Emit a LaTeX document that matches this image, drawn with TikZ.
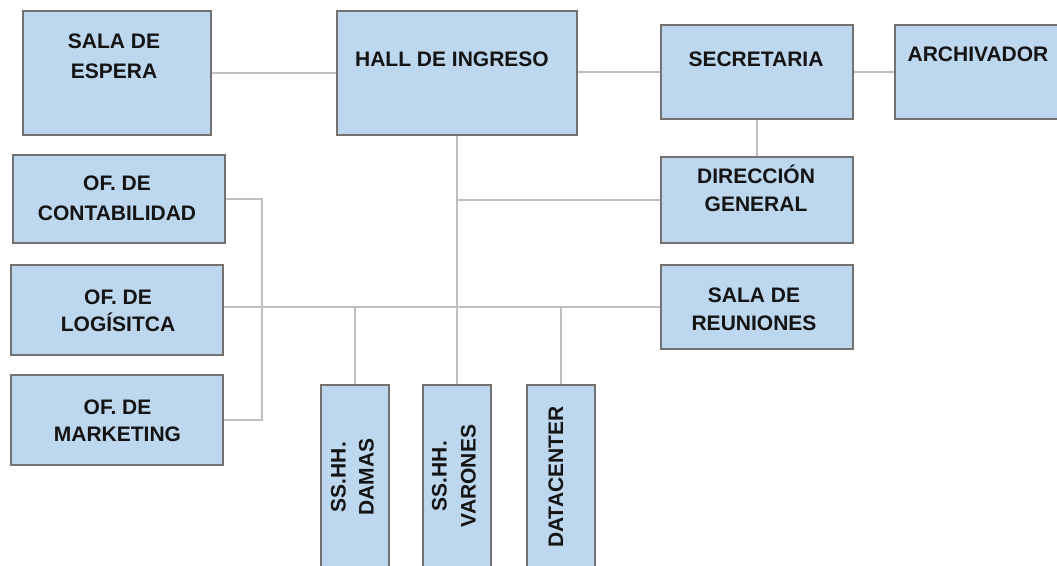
\documentclass[tikz,border=0pt]{standalone}
\usepackage{fontspec}
\setmainfont{Liberation Sans}
\usetikzlibrary{backgrounds}
\definecolor{roomfill}{HTML}{BDD7EE}
\definecolor{roomline}{HTML}{767171}
\definecolor{wirecol}{HTML}{BFBFBF}
\definecolor{ink}{HTML}{141414}
\begin{document}
\begin{tikzpicture}[x=1pt,y=-1pt,
  room/.style={draw=roomline, fill=roomfill, line width=2pt, inner sep=0pt, anchor=north west},
  lbl/.style={font=\fontsize{21}{#1}\selectfont\bfseries, text=ink, align=center, inner sep=0pt, anchor=north},
  lbl/.default=28,
  wire/.style={draw=wirecol, line width=1.8pt}]
\clip (0,0) rectangle (1057,565);
% rooms
\node[room, minimum width=188, minimum height=124] (espera) at (22,10) {};
\node[room, minimum width=240, minimum height=124] (hall) at (336,10) {};
\node[room, minimum width=192, minimum height=94] (secretaria) at (660,24) {};
\node[room, minimum width=171, minimum height=94] (archivador) at (894,24) {};
\node[room, minimum width=192, minimum height=86] (direccion) at (660,156) {};
\node[room, minimum width=212, minimum height=88] (conta) at (12,154) {};
\node[room, minimum width=212, minimum height=90] (logistica) at (10,264) {};
\node[room, minimum width=212, minimum height=90] (marketing) at (10,374) {};
\node[room, minimum width=192, minimum height=84] (reuniones) at (660,264) {};
\node[room, minimum width=68, minimum height=196] (damas) at (320,384) {};
\node[room, minimum width=68, minimum height=196] (varones) at (422,384) {};
\node[room, minimum width=68, minimum height=196] (datacenter) at (526,384) {};
% labels
\node[lbl=30] (t-espera) at (114,48.5) {\smash{SALA DE}\\\smash{ESPERA}};
\node[lbl] (t-hall) at (452,65.5) {\smash{HALL DE INGRESO}};
\node[lbl] (t-secretaria) at (756,65.5) {\smash{SECRETARIA}};
\node[lbl] (t-archivador) at (978,60.5) {\smash{ARCHIVADOR}};
\node[lbl=30] (t-conta) at (117,190.5) {\smash{OF. DE}\\\smash{CONTABILIDAD}};
\node[lbl=27] (t-logistica) at (118,304.5) {\smash{OF. DE}\\\smash{LOGÍSITCA}};
\node[lbl=27] (t-marketing) at (117.5,414.5) {\smash{OF. DE}\\\smash{MARKETING}};
\node[lbl=28] (t-direccion) at (756,183.5) {\smash{DIRECCIÓN}\\\smash{GENERAL}};
\node[lbl=28] (t-reuniones) at (754,302.5) {\smash{SALA DE}\\\smash{REUNIONES}};
\node[lbl=28, rotate=90] (t-damas) at (345.5,477) {\smash{SS.HH.}\\\smash{DAMAS}};
\node[lbl=29, rotate=90] (t-varones) at (446.5,476) {\smash{SS.HH.}\\\smash{VARONES}};
\node[lbl, rotate=90] (t-datacenter) at (562.5,477) {\smash{DATACENTER}};
\coordinate (bus) at (262,0);
% connectors
\begin{scope}[on background layer]
\fill[white] (0,0) rectangle (1057,565);
\draw[wire] (espera.east) -- (hall.west);
\draw[wire] (secretaria.west -| hall.east) -- (secretaria.west);
\draw[wire] (secretaria.east) -- (archivador.west);
\draw[wire] (secretaria.south) -- (direccion.north);
\draw[wire] (hall.south) -- (varones.north);
\draw[wire] (hall.south |- direccion.west) -- (direccion.west);
\draw[wire] (reuniones.west -| logistica.east) -- (reuniones.west);
\draw[wire] (conta.east) -- (conta.east -| bus) -- (marketing.east -| bus) -- (marketing.east);
\draw[wire] (damas.north) -- (damas.north |- reuniones.west);
\draw[wire] (datacenter.north) -- (datacenter.north |- reuniones.west);
\end{scope}
\end{tikzpicture}
\end{document}
